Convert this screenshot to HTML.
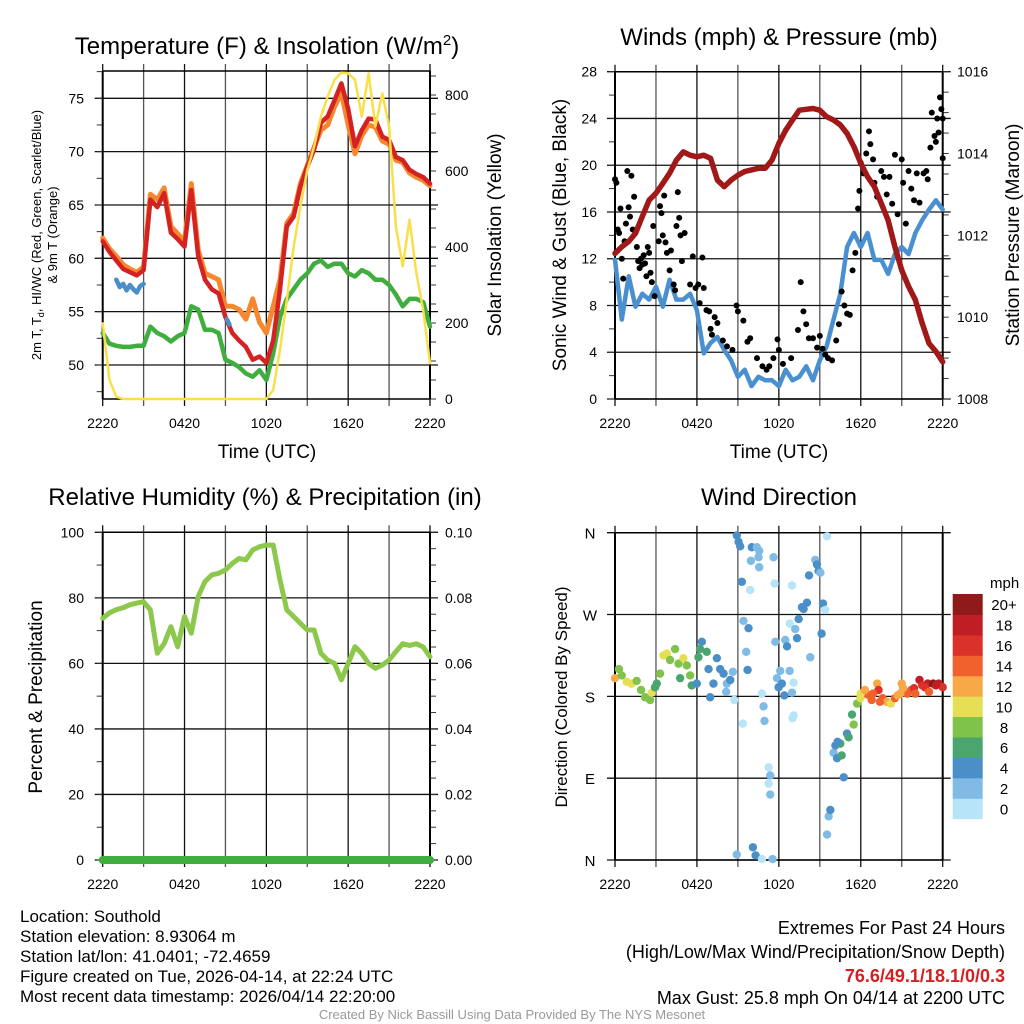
<!DOCTYPE html>
<html><head><meta charset="utf-8">
<style>
html,body{margin:0;padding:0;background:#fff;}
svg{display:block;font-family:"Liberation Sans",sans-serif;}
</style></head>
<body>
<svg id="fig" width="1024" height="1024" viewBox="0 0 1024 1024" xmlns="http://www.w3.org/2000/svg">
<rect width="1024" height="1024" fill="#fff"/>
<g id="p1"></g>
<g id="p2"></g>
<g id="p3"></g>
<g id="p4"></g>

<text x="267" y="54" font-size="24" text-anchor="middle">Temperature (F) &amp; Insolation (W/m<tspan dy="-9" font-size="15">2</tspan><tspan dy="9">)</tspan></text>
<text x="779" y="45" font-size="24" text-anchor="middle">Winds (mph) &amp; Pressure (mb)</text>
<text x="265" y="505" font-size="24" text-anchor="middle">Relative Humidity (%) &amp; Precipitation (in)</text>
<text x="779" y="505" font-size="24" text-anchor="middle">Wind Direction</text>

<text x="267" y="458" font-size="19" text-anchor="middle">Time (UTC)</text>
<text x="779" y="458" font-size="19" text-anchor="middle">Time (UTC)</text>

<g font-size="13" text-anchor="middle">
<text transform="translate(41,235) rotate(-90)">2m T, T<tspan font-size="9" dy="3">d</tspan><tspan dy="-3">, HI/WC (Red, Green, Scarlet/Blue)</tspan></text>
<text transform="translate(57,235) rotate(-90)">&amp; 9m T (Orange)</text>
</g>
<text transform="translate(501,235) rotate(-90)" font-size="19" text-anchor="middle">Solar Insolation (Yellow)</text>
<text transform="translate(566,235) rotate(-90)" font-size="19" text-anchor="middle">Sonic Wind &amp; Gust (Blue, Black)</text>
<text transform="translate(1019,235) rotate(-90)" font-size="19" text-anchor="middle">Station Pressure (Maroon)</text>
<text transform="translate(42,697) rotate(-90)" font-size="19" text-anchor="middle">Percent &amp; Precipitation</text>
<text transform="translate(567,697) rotate(-90)" font-size="17" text-anchor="middle">Direction (Colored By Speed)</text>

<g font-size="17">
<text x="20" y="922">Location: Southold</text>
<text x="20" y="942">Station elevation: 8.93064 m</text>
<text x="20" y="962">Station lat/lon: 41.0401; -72.4659</text>
<text x="20" y="982">Figure created on Tue, 2026-04-14, at 22:24 UTC</text>
<text x="20" y="1002">Most recent data timestamp: 2026/04/14 22:20:00</text>
</g>
<g font-size="18" text-anchor="end">
<text x="1005" y="934">Extremes For Past 24 Hours</text>
<text x="1005" y="958">(High/Low/Max Wind/Precipitation/Snow Depth)</text>
<text x="1005" y="982" fill="#d42020" font-weight="bold">76.6/49.1/18.1/0/0.3</text>
<text x="1005" y="1004">Max Gust: 25.8 mph On 04/14 at 2200 UTC</text>
</g>
<text x="512" y="1019" font-size="13" fill="#999" text-anchor="middle">Created By Nick Bassill Using Data Provided By The NYS Mesonet</text>
</svg>
<script>
// ---- data (hours since 2220 UTC, half-hour steps) ----
const timeLabels = ["2220","0420","1020","1620","2220"];
const halfHours = Array.from({length:49},(_,i)=>i*0.5);
const temp2m = [61.6,60.6,59.8,59.0,58.7,58.4,58.9,65.5,64.8,66.1,62.4,61.8,61.1,66.4,60.2,58.0,57.1,56.7,54.5,53.0,52.3,51.7,50.5,50.8,50.2,52.3,57.1,63.0,63.9,66.7,68.6,70.2,72.7,73.3,74.8,76.4,74.0,70.5,72.0,73.1,73.0,71.4,71.1,69.5,69.2,68.3,67.9,67.6,67.0];
const temp9m = [61.9,60.9,60.2,59.4,59.0,58.7,59.2,66.0,65.5,66.6,63.0,62.3,61.6,67.0,60.8,58.6,58.3,58.0,55.5,55.5,55.2,54.3,56.2,54.0,53.0,55.5,58.0,63.3,64.2,67.0,68.7,70.4,72.0,72.5,74.2,75.5,72.5,69.8,71.5,72.5,72.3,71.0,70.7,69.2,69.0,68.0,67.6,67.3,66.8];
const dewpoint = [53.0,52.0,51.8,51.7,51.7,51.8,51.8,53.6,53.0,52.7,52.2,52.7,53.0,55.5,55.2,53.3,53.3,53.0,50.5,50.2,49.8,49.2,48.9,49.5,48.6,51.1,54.5,56.2,57.1,58.0,58.6,59.5,59.8,59.2,59.5,59.5,58.6,58.3,58.9,58.6,58.0,58.0,57.5,56.6,55.5,56.2,56.2,55.9,53.6];
const windChillTimes = [1.0,1.25,1.5,1.75,2.0,2.25,2.5,2.75,3.0];
const windChill = [58.0,57.3,57.6,57.0,57.5,57.1,56.8,57.4,57.6];
const windChill2Times = [9.1,9.3];
const windChill2 = [54.3,53.8];
const solar = [199,50,6,0,0,0,0,0,0,0,0,0,0,0,0,0,0,0,0,0,0,0,0,0,0,24,129,260,400,506,603,664,743,796,840,859,857,840,743,857,717,804,717,454,349,472,331,234,94];
const windSpeed = [11.9,6.8,10.5,7.9,9.0,8.5,9.6,7.9,10.2,8.5,8.5,9.0,7.6,3.9,4.8,5.3,4.2,3.3,1.9,2.5,1.1,1.9,1.6,1.6,1.1,2.5,1.6,1.9,2.8,1.6,3.3,4.5,6.8,9.0,13.0,14.2,13.0,14.2,11.9,11.9,10.7,12.4,13.0,12.4,14.2,15.3,16.2,17.0,16.2];
const pressure = [1011.56,1011.72,1011.85,1012.05,1012.46,1012.86,1013.03,1013.27,1013.52,1013.84,1014.04,1013.96,1013.92,1013.96,1013.88,1013.35,1013.19,1013.35,1013.47,1013.56,1013.6,1013.64,1013.64,1013.84,1014.25,1014.57,1014.82,1015.06,1015.08,1015.1,1015.06,1014.9,1014.82,1014.7,1014.49,1014.17,1013.76,1013.43,1013.19,1012.78,1012.37,1011.72,1011.15,1010.75,1010.42,1009.85,1009.36,1009.16,1008.91];
const gustTimes = [0,0.1,0.2,0.3,0.4,0.5,0.6,0.7,0.8,0.9,1,1.1,1.2,1.3,1.4,1.6,1.7,1.8,1.9,2,2.1,2.2,2.3,2.4,2.5,2.6,2.7,2.8,2.9,3.2,3.3,3.4,3.5,3.6,3.7,3.8,4,4.1,4.3,4.4,4.5,4.6,4.7,4.8,4.9,5.1,5.5,5.7,5.9,6.1,6.2,6.4,6.5,6.7,6.9,7,7.1,7.3,7.5,7.9,8.2,8.6,8.9,9,9.4,9.7,9.9,10.4,10.8,11.1,11.3,11.6,11.9,12.0,12.3,12.9,13.4,13.6,13.8,14.0,14.2,14.5,14.8,15,15.2,15.4,15.6,15.9,16.2,16.4,16.6,16.8,17,17.2,17.4,17.6,17.8,17.9,18.0,18.2,18.4,18.6,18.7,18.9,19.0,19.2,19.5,19.7,19.9,20.1,20.3,20.5,20.7,21.0,21.1,21.3,21.5,21.7,21.9,22.1,22.3,22.6,22.8,22.9,23.1,23.2,23.4,23.5,23.6,23.7,23.8,23.9,24,24];
const gustSpeeds = [18.8,18.5,14.5,14.2,16.3,12,10.3,13.5,15,19.5,16.4,15.6,19.1,14.5,17.3,13,11.8,11.2,12,11.5,12.3,11.6,10.5,13,12.5,10.8,10,14.8,8.8,13.5,16.5,15.9,14,17.4,13.4,12.5,11,12.7,9.8,9.3,14.8,17.7,15.5,14,11.8,14.2,9.8,12.2,9.5,9.8,8.2,12.1,9.5,7.6,7.5,6,5.5,7,6.5,5,4.5,4.2,8,7.5,6.7,4.9,5.2,3.5,2.8,2.5,2.8,3.5,5.1,4.2,3.0,3.5,5.9,10,7.5,6.4,5.2,5.2,4.4,5.4,4.3,3.8,3.5,3.3,5,6.4,9.2,8,7.3,7.2,11,12.5,16.3,17.8,20.2,19.3,21,22.9,21.8,20.5,18.5,17.3,19.5,19.0,17.5,19,16.7,20.9,15.8,20.5,18.5,15.0,19.5,18.0,17.0,19.3,16.8,19.3,19.5,18.8,21.5,24.5,22.5,22,24,22.8,25.8,24.8,20.6,24];
const humidity = [73.8,75.4,76.4,77.0,77.9,78.4,78.8,76.3,63.1,66.0,71.2,65.1,74.3,69.2,80.4,85.0,87.0,87.5,88.5,90.5,92.0,91.6,94.6,95.6,96.1,96.1,85.4,76.3,74.3,72.2,70.2,70.2,63.1,61.0,60.0,55.0,60.0,65.1,63.0,60.0,58.5,59.5,61.0,63.6,66.0,65.5,66.0,65.0,62.0];
const precip = halfHours.map(()=>0);
const dirTimes = [0,0.29,0.49,0.86,1.22,1.59,1.91,2.2,2.57,2.69,2.93,3.06,3.3,3.55,3.79,4.03,4.4,4.65,4.77,5.01,5.26,5.5,5.62,5.99,6.11,6.23,6.36,6.72,6.85,6.97,7.21,7.46,7.7,7.95,8.14,8.19,8.44,8.63,8.73,8.92,9.05,9.17,9.29,9.41,9.36,9.61,9.71,9.78,9.9,10.02,10.39,10.56,9.95,10.51,10.56,10.76,10.88,10.95,11.25,11.37,11.25,11.37,8.92,10.1,10.3,10.76,11.54,11.61,11.69,11.74,11.86,11.98,12.1,12.22,12.4,12.79,12.96,13.08,13.08,12.96,12.47,12.6,12.8,13.2,13.33,13.45,13.69,13.81,14.06,14.21,14.3,14.67,14.79,14.91,15.04,15.13,15.23,15.4,15.53,15.53,15.65,15.77,16.01,16.14,16.26,16.5,16.75,16.99,17.11,17.36,17.48,17.73,17.97,18.2,18.5,18.8,19.2,19.3,19.6,19.9,20.2,20.5,20.7,21.0,21.4,21.7,21.9,22.3,22.5,22.9,23.3,23.7,24.0,18.0,18.9,19.4,20.9,21.1,22.0,22.7,23.5,23.0,18.3,16.3,16.6,13.0];
const dirDegrees = [200,210,203,196,194,197,187,179,176,184,190,194,205,225,227,220,232,216,200,222,214,203,192,194,223,232,240,229,210,179,194,222,210,205,185,194,198,207,176,357,350,345,306,263,150,229,209,255,297,344,344,340,329,333,322,183,169,153,102,93,84,72,6,14,5,1,1,333,304,240,200,190,208,194,181,208,184,159,195,302,242,235,260,254,244,265,278,276,283,313,223,330,325,318,316,249,282,275,356,28,48,55,118,126,112,128,91,139,135,160,149,172,178,184,182,176,194,187,178,174,172,178,181,194,183,187,189,198,192,194,194,194,190,183,183,174,183,189,183,190,192,185,187,130,115,156];
const dirSpeeds = [12,8,8,10,10,8,8,8,8,10,6,6,8,10,10,8,8,8,6,10,8,8,6,4,6,6,4,6,4,4,4,4,4,4,2,2,4,2,0,4,4,4,4,2,0,2,4,4,0,4,2,2,2,2,2,0,2,2,0,2,0,2,2,4,4,0,2,2,0,2,2,4,2,4,4,2,2,0,0,0,2,4,0,2,4,4,4,4,4,4,2,2,4,4,2,4,4,0,0,2,2,4,2,4,4,6,4,4,6,6,8,8,10,14,14,14,12,16,14,12,10,14,12,12,14,14,16,18,16,18,20,18,16,10,14,14,12,12,14,16,18,14,12,4,6,0];
const speedBinColors = ["#b8e4f7","#80bbe6","#4a8fc8","#4aa66e","#80c34a","#e6df55","#f7a847","#f0612e","#da3228","#be1e24","#8e1a1a"];
const speedBinLabels = ["0","2","4","6","8","10","12","14","16","18","20+"];
const dirLabels = ["N","E","S","W","N"];

// ---- helpers ----
const NS="http://www.w3.org/2000/svg";
function mk(parent,tag,attrs){const e=document.createElementNS(NS,tag);for(const k in attrs)e.setAttribute(k,attrs[k]);parent.appendChild(e);return e;}
function scale(d0,d1,r0,r1){return v=>r0+(v-d0)*(r1-r0)/(d1-d0);}
function pathD(xs,ys,sx,sy){return xs.map((x,i)=>(i?"L":"M")+sx(x).toFixed(1)+","+sy(ys[i]).toFixed(1)).join("");}
function txt(g,x,y,s,size,anchor){const t=mk(g,"text",{x:x,y:y,"font-size":size,"text-anchor":anchor||"middle"});t.textContent=s;return t;}

function frame(g,b,leftTicks,rightTicks,hGrid){
  const sx=scale(0,24,b.x0,b.x1);
  for(let h=0;h<=24;h+=3){
    const x=sx(h);
    const l=mk(g,"line",{x1:x,y1:b.y0-7,x2:x,y2:b.y1+7,stroke:(h%6===0?"#111":"#555"),"stroke-width":1.3});
    
    
  }
  hGrid.forEach(y=>{
    const l=mk(g,"line",{x1:b.x0-8,y1:y,x2:b.x1+8,y2:y,stroke:"#111","stroke-width":1.3});
    
    
  });
  leftTicks.forEach(y=>mk(g,"line",{x1:b.x0-6,y1:y,x2:b.x0,y2:y,stroke:"#333","stroke-width":1}));
  rightTicks.forEach(y=>mk(g,"line",{x1:b.x1,y1:y,x2:b.x1+6,y2:y,stroke:"#333","stroke-width":1}));
  mk(g,"line",{x1:b.x0,y1:b.y0,x2:b.x1,y2:b.y0,stroke:"#000","stroke-width":1.5});
  mk(g,"line",{x1:b.x0,y1:b.y1,x2:b.x1,y2:b.y1,stroke:"#000","stroke-width":1.5});
  mk(g,"line",{x1:b.x0,y1:b.y0,x2:b.x0,y2:b.y1,stroke:"#000","stroke-width":2});
  mk(g,"line",{x1:b.x1,y1:b.y0,x2:b.x1,y2:b.y1,stroke:"#000","stroke-width":2});
  timeLabels.forEach((s,i)=>{
    const t=txt(g,sx(i*6),b.y1+29,s,14);
    
    
  });
  return sx;
}
function range(a,b,s){const r=[];for(let v=a;v<=b+1e-9;v+=s)r.push(v);return r;}
function series(g,d,color,w,name){
  const p=mk(g,"path",{d:d,fill:"none",stroke:color,"stroke-width":w,"stroke-linejoin":"round","stroke-linecap":"round"});
  
  
  return p;
}

// ---- Panel 1 ----
(function(){
  const g=document.getElementById("p1");
  const b={x0:102.7,x1:430,y0:71,y1:399};
  const sy=scale(50,75,365,98.3);
  const ss=scale(0,800,399,95);
  const lt=range(47.5,77.5,2.5).map(sy).filter(y=>y>=b.y0-1&&y<=b.y1+1);
  const rt=range(0,850,50).map(ss).filter(y=>y>=b.y0-1);
  const sx=frame(g,b,lt,rt,range(50,75,5).map(sy));
  range(50,75,5).forEach(v=>{const t=txt(g,84,sy(v)+5,String(v),14,"end");});
  range(0,800,200).forEach(v=>{const t=txt(g,445,ss(v)+5,String(v),14,"start");});
  series(g,pathD(halfHours,dewpoint,sx,sy),"#3fae3f",4.5,"dewpoint-line");
  series(g,pathD(halfHours,temp9m,sx,sy),"#f5872f",5,"temp-9m-line");
  series(g,pathD(halfHours,temp2m,sx,sy),"#d42222",4.5,"temp-2m-line");
  series(g,pathD(windChillTimes,windChill,sx,sy),"#4a8fc8",4.5,"wind-chill-line");
  series(g,pathD(windChill2Times,windChill2,sx,sy),"#4a8fc8",4.5,"wind-chill-line-2");
  series(g,pathD(halfHours,solar,sx,ss),"#f9e04a",2.5,"solar-line");
})();

// ---- Panel 2 ----
(function(){
  const g=document.getElementById("p2");
  const b={x0:615,x1:942.7,y0:71.7,y1:399};
  const sy=scale(0,28,399,71.7);
  const sp=scale(1008,1016,399,71.7);
  const sx=frame(g,b,range(0,28,2).map(sy),range(1008,1016,0.5).map(sp),range(0,28,4).map(sy));
  range(0,28,4).forEach(v=>{const t=txt(g,597,sy(v)+5,String(v),14,"end");});
  range(1008,1016,2).forEach(v=>{const t=txt(g,957,sp(v)+5,String(v),14,"start");});
  series(g,pathD(halfHours,windSpeed,sx,sy),"#4a90d0",4.5,"wind-speed-line");
  gustTimes.forEach((t,i)=>{
    const c=mk(g,"circle",{cx:sx(t),cy:sy(gustSpeeds[i]),r:3,fill:"#000"});
    
    
  });
  series(g,pathD(halfHours,pressure,sx,sp),"#a01818",5.5,"pressure-line");
})();

// ---- Panel 3 ----
(function(){
  const g=document.getElementById("p3");
  const b={x0:102.7,x1:430,y0:532.3,y1:860};
  const sy=scale(0,100,860,532.3);
  const sr=scale(0,0.1,860,532.3);
  const sx=frame(g,b,range(0,100,10).map(sy),range(0,0.1,0.005).map(sr),range(0,100,20).map(sy));
  range(0,100,20).forEach(v=>{const t=txt(g,84,sy(v)+5,String(v),14,"end");});
  range(0,0.1,0.02).forEach(v=>{const t=txt(g,445,sr(v)+5,v.toFixed(2),14,"start");});
  series(g,pathD(halfHours,humidity,sx,sy),"#8cc84b",5,"humidity-line");
  series(g,pathD(halfHours,precip,sx,sr),"#3fae3f",8,"precip-line");
})();

// ---- Panel 4 ----
(function(){
  const g=document.getElementById("p4");
  const b={x0:615,x1:942.7,y0:532.7,y1:860};
  const sy=scale(0,360,860,532.7);
  const sx=frame(g,b,[],[],range(0,360,90).map(sy));
  dirLabels.forEach((s,i)=>{const t=txt(g,590,sy(i*90)+6,s,15,"middle");});
  dirTimes.forEach((t,i)=>{
    const bin=Math.min(10,Math.floor(dirSpeeds[i]/2));
    const c=mk(g,"circle",{cx:sx(t),cy:sy(dirDegrees[i]),r:4.2,fill:speedBinColors[bin]});
    
    
  });
  const cb0=594,cbH=224.7/11;
  speedBinColors.forEach((col,i)=>{
    const y=cb0+(10-i)*cbH;
    const r=mk(g,"rect",{x:952.7,y:y,width:30,height:cbH+0.5,fill:col});
    
    
    const t=txt(g,1004,y+cbH/2+6,speedBinLabels[i],15,"middle");
    
    
  });
  const u=txt(g,990,588,"mph",15,"start");
  
  
})();
</script>
</body></html>
